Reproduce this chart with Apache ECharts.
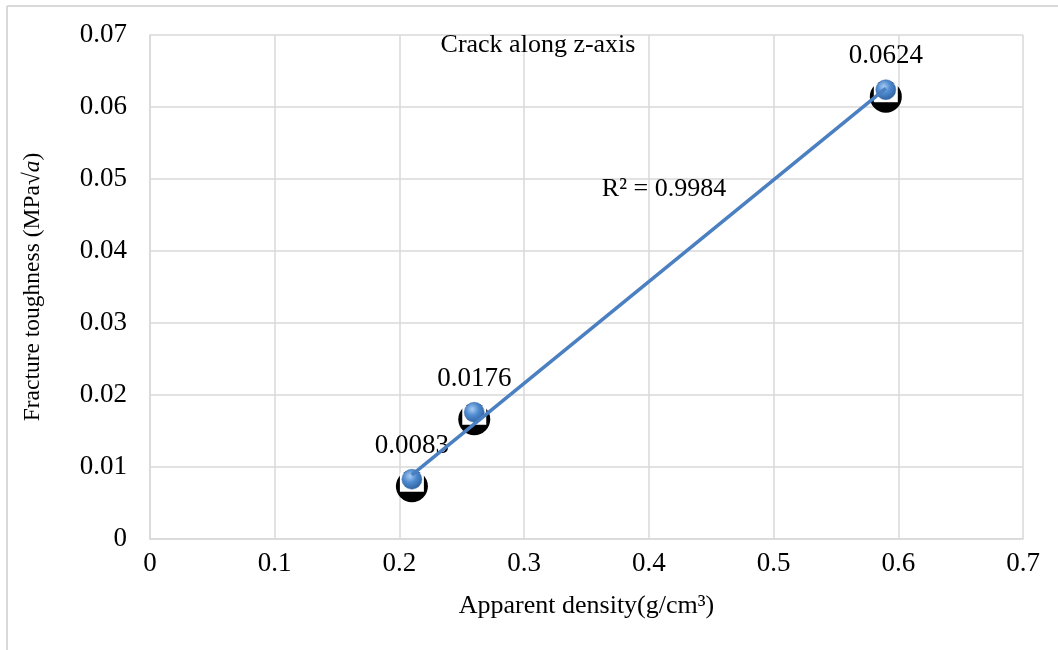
<!DOCTYPE html>
<html>
<head>
<meta charset="utf-8">
<script src="https://cdn.jsdelivr.net/npm/echarts@6/dist/echarts.min.js"></script>
<style>
  html, body { margin: 0; padding: 0; background: #fff; }
  #chart { width: 1058px; height: 650px; }
</style>
</head>
<body>
<div id="chart"></div>
<script>
// measured points
var density = [0.21, 0.26, 0.59];
var toughness = [0.0083, 0.0176, 0.0624];
var pointLabels = ['0.0083', '0.0176', '0.0624'];
// linear trendline ends
var trendX = [0.21, 0.59];
var trendY = [0.0089, 0.0626];
var xTickLabels = ['0', '0.1', '0.2', '0.3', '0.4', '0.5', '0.6', '0.7'];
var yTickLabels = ['0', '0.01', '0.02', '0.03', '0.04', '0.05', '0.06', '0.07'];

var FONT = '"Liberation Serif", "Times New Roman", serif';
var GRID = '#d9d9d9';

var pts = density.map(function (x, i) { return [x, toughness[i]]; });
var trend = trendX.map(function (x, i) { return [x, trendY[i]]; });

var chart = echarts.init(document.getElementById('chart'));
chart.setOption({
  backgroundColor: '#fff',
  animation: false,
  grid: { left: 150, right: 35, top: 35, bottom: 111 },
  xAxis: {
    type: 'value',
    min: 0,
    max: 0.7,
    interval: 0.1,
    name: 'Apparent density(g/cm³)',
    nameLocation: 'middle',
    nameGap: 54,
    nameTextStyle: { fontFamily: FONT, fontSize: 26, color: '#000' },
    axisLine: { show: true, lineStyle: { color: GRID, width: 1.5 } },
    axisTick: { show: false },
    axisLabel: {
      fontFamily: FONT, fontSize: 27, color: '#000', margin: 11,
      formatter: function (v, i) { return xTickLabels[i]; }
    },
    splitLine: { lineStyle: { color: GRID, width: 1.5 } }
  },
  yAxis: {
    type: 'value',
    min: 0,
    max: 0.07,
    interval: 0.01,
    name: 'Fracture toughness (MPa√{i|a})',
    nameLocation: 'middle',
    nameGap: 105,
    nameTextStyle: {
      fontFamily: FONT, fontSize: 23.5, color: '#000',
      rich: { i: { fontFamily: FONT, fontSize: 23.5, fontStyle: 'italic', color: '#000' } }
    },
    axisLine: { show: true, lineStyle: { color: GRID, width: 1.5 } },
    axisTick: { show: false },
    axisLabel: {
      fontFamily: FONT, fontSize: 27, color: '#000', margin: 23,
      formatter: function (v, i) { return yTickLabels[i]; }
    },
    splitLine: { lineStyle: { color: GRID, width: 1.5 } }
  },
  graphic: [
    { type: 'line', shape: { x1: 7, y1: 6, x2: 1058, y2: 6 }, style: { stroke: GRID, lineWidth: 2 } },
    { type: 'line', shape: { x1: 7, y1: 6, x2: 7, y2: 650 }, style: { stroke: GRID, lineWidth: 2 } },
    {
      type: 'text', x: 538, y: 45, z: 10,
      style: { text: 'Crack along z-axis', font: '26px ' + FONT, fill: '#000', textAlign: 'center', textVerticalAlign: 'middle' }
    },
    {
      type: 'text', x: 664, y: 189, z: 10,
      style: { text: 'R² = 0.9984', font: '26px ' + FONT, fill: '#000', textAlign: 'center', textVerticalAlign: 'middle' }
    }
  ],
  series: [
    {
      type: 'scatter',
      data: pts,
      symbol: 'circle',
      symbolSize: 32,
      symbolOffset: [0, 7],
      itemStyle: { color: '#000', opacity: 1 },
      z: 2,
      silent: true
    },
    {
      type: 'scatter',
      data: pts,
      symbol: 'rect',
      symbolSize: [24, 19],
      symbolOffset: [0, 3],
      itemStyle: { color: '#fff', opacity: 1 },
      z: 3,
      silent: true
    },
    {
      type: 'scatter',
      data: pts,
      symbol: 'circle',
      symbolSize: 20,
      itemStyle: {
        opacity: 1,
        color: {
          type: 'radial', x: 0.4, y: 0.35, r: 0.7,
          colorStops: [
            { offset: 0, color: '#a9cbf2' },
            { offset: 0.45, color: '#4f8bd0' },
            { offset: 1, color: '#2c5e9c' }
          ]
        },
        borderColor: '#3a6aa6',
        borderWidth: 0.5
      },
      label: {
        show: true,
        position: 'top',
        distance: 10,
        fontFamily: FONT,
        fontSize: 27,
        color: '#000',
        formatter: function (p) { return pointLabels[p.dataIndex]; }
      },
      z: 4
    },
    {
      type: 'line',
      data: trend,
      symbol: 'none',
      lineStyle: { color: '#4a7fc1', width: 3.5 },
      z: 5,
      silent: true
    }
  ]
});
</script>
</body>
</html>
